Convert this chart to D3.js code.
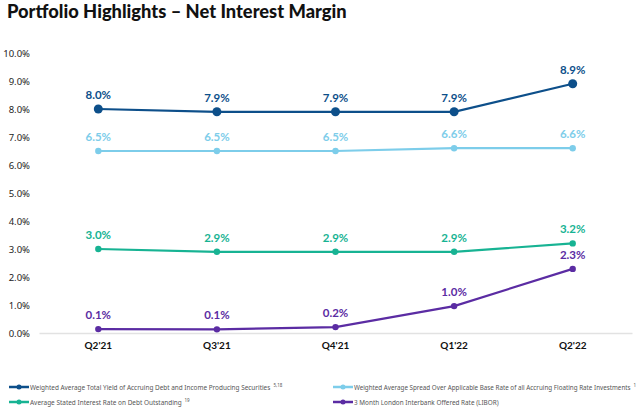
<!DOCTYPE html>
<html><head><meta charset="utf-8">
<script src="https://cdn.jsdelivr.net/npm/d3@7"></script>
<style>body{margin:0;background:#fff;} svg{display:block;}</style>
</head><body>
<svg id="c" width="640" height="414"></svg>
<script>
const categories = ["Q2'21","Q3'21","Q4'21","Q1'22","Q2'22"];
const yieldValues  = [8.0, 7.9, 7.9, 7.9, 8.9];
const spreadValues = [6.5, 6.5, 6.5, 6.6, 6.6];
const debtValues   = [3.0, 2.9, 2.9, 2.9, 3.2];
const liborValues  = [0.14, 0.13, 0.21, 0.96, 2.29];
const liborLabels  = ["0.1%","0.1%","0.2%","1.0%","2.3%"];
const yTicks = [0,1,2,3,4,5,6,7,8,9,10];

const series = [
  {name:"Weighted Average Total Yield of Accruing Debt and Income Producing Securities", sup:"5,18", values:yieldValues, color:"#0d4f8a", r:4.5},
  {name:"Weighted Average Spread Over Applicable Base Rate of all Accruing Floating Rate Investments", sup:"1", values:spreadValues, color:"#7dcdea", r:3.2},
  {name:"Average Stated Interest Rate on Debt Outstanding", sup:"19", values:debtValues, color:"#17b393", r:3.2},
  {name:"3 Month London Interbank Offered Rate (LIBOR)", sup:"", values:liborValues, labels:liborLabels, color:"#5b2ca3", r:3.2}
];

const svg = d3.select("#c");
const x = d3.scaleBand().domain(categories).range([39, 632]);
const y = d3.scaleLinear().domain([0, 10]).range([333, 53]);
const cx = d => x(d) + x.bandwidth()/2;

function fitFont(sel, base, target) {
  sel.attr("font-size", base);
  const w = sel.node().getComputedTextLength();
  sel.attr("font-size", base * target / w);
}

const title = svg.append("text").attr("x", 7).attr("y", 17.5)
  .attr("font-family", "Lato, 'Open Sans', sans-serif").attr("font-weight", 900)
  .attr("fill", "#111")
  .text("Portfolio Highlights – Net Interest Margin");
fitFont(title, 19, 340);

// y axis
const yAxis = d3.axisLeft(y).tickValues(yTicks).tickFormat(d => d3.format(".1f")(d) + "%").tickSize(0).tickPadding(0);
const gy = svg.append("g").attr("transform", "translate(30,0)").call(yAxis);
gy.select(".domain").remove();
gy.selectAll("text").attr("font-family", "'Liberation Sans Narrow', 'Noto Sans', sans-serif")
  .attr("font-size", 9.5).attr("fill", "#222");

// x axis
const xAxis = d3.axisBottom(x).tickSize(0).tickPadding(9);
const gx = svg.append("g").attr("transform", "translate(0,333)").call(xAxis);
gx.select(".domain").attr("stroke", "#e2e2e2").attr("stroke-width", 1.5);
gx.selectAll("text").attr("font-family", "Lato, sans-serif").attr("font-weight", 700)
  .attr("font-size", 10).attr("fill", "#111");

const line = d3.line().x((d,i) => cx(categories[i])).y(d => y(d));

series.forEach(s => {
  svg.append("path").datum(s.values).attr("d", line)
    .attr("fill", "none").attr("stroke", s.color).attr("stroke-width", 2.2);
  svg.selectAll(null).data(s.values).enter().append("circle")
    .attr("cx", (d,i) => cx(categories[i])).attr("cy", d => y(d)).attr("r", s.r).attr("fill", s.color);
  svg.selectAll(null).data(s.values).enter().append("text")
    .attr("x", (d,i) => cx(categories[i])).attr("y", d => y(d) - 10)
    .attr("text-anchor", "middle")
    .attr("font-family", "Lato, 'Open Sans', sans-serif").attr("font-weight", 700)
    .attr("font-size", 11.5).attr("fill", s.color)
    .text((d,i) => s.labels ? s.labels[i] : d3.format(".1f")(d) + "%");
});

// legend
const legPos = [[9,387],[333,387],[9,402],[333,402]];
const legWidths = [241, 277, 152, 145];
series.forEach((s, i) => {
  const [lx, ly] = legPos[i];
  const g = svg.append("g").attr("transform", `translate(${lx},${ly})`);
  g.append("line").attr("x1", 0).attr("x2", 20).attr("y1", 0).attr("y2", 0)
    .attr("stroke", s.color).attr("stroke-width", 2.5);
  g.append("circle").attr("cx", 10).attr("cy", 0).attr("r", 2.5).attr("fill", s.color);
  const t = g.append("text").attr("x", 21).attr("y", 2.5)
    .attr("font-family", "'Liberation Sans Narrow', 'Noto Sans', sans-serif")
    .attr("fill", "#555")
    .text(s.name);
  fitFont(t, 7.5, legWidths[i]);
  if (s.sup) g.append("text").attr("x", 21 + legWidths[i] + 2.5).attr("y", -0.5)
    .attr("font-family", "'Liberation Sans Narrow', 'Noto Sans', sans-serif")
    .attr("font-size", 4.5).attr("fill", "#555").text(s.sup);
});
</script>
</body></html>
